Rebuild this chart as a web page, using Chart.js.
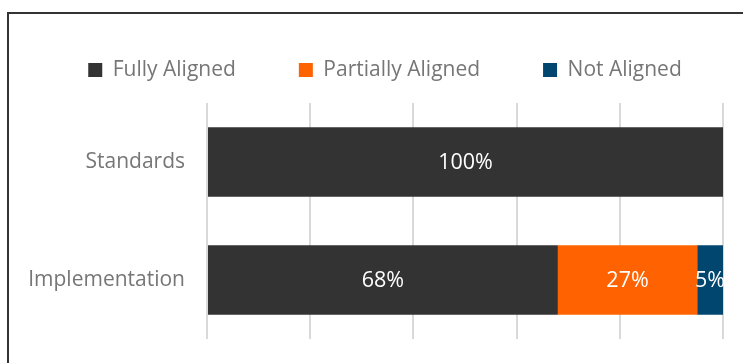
<!DOCTYPE html>
<html>
<head>
<meta charset="utf-8">
<script src="https://cdn.jsdelivr.net/npm/chart.js@4/dist/chart.umd.min.js"></script>
<style>
  html, body { margin: 0; padding: 0; background: #ffffff; overflow: hidden; }
  #frame { position: absolute; left: 7px; top: 12px; width: 800px; height: 400px;
           border-top: 2px solid #333333; border-left: 2px solid #333333; }
  #wrap { position: absolute; left: 0; top: 0; width: 743px; height: 363px; }
</style>
</head>
<body>
<div id="frame"></div>
<div id="wrap"><canvas id="c" width="743" height="363"></canvas></div>
<script>
const categories = ["Standards", "Implementation"];
const seriesNames = ["Fully Aligned", "Partially Aligned", "Not Aligned"];
const fullyAligned = [100, 68];
const partiallyAligned = [0, 27];
const notAligned = [0, 5];
const xTicks = [0, 20, 40, 60, 80, 100];
const colors = ["#333333", "#FF6200", "#00466F"];

const labelPlugin = {
  id: "segLabels",
  afterDatasetsDraw(chart) {
    const ctx = chart.ctx;
    ctx.save();
    ctx.font = "21.5px 'Open Sans'";
    ctx.fillStyle = "#ffffff";
    ctx.textAlign = "center";
    ctx.textBaseline = "middle";
    chart.data.datasets.forEach((ds, i) => {
      const meta = chart.getDatasetMeta(i);
      meta.data.forEach((el, j) => {
        const v = ds.data[j];
        if (!v) return;
        const p = el.getCenterPoint();
        ctx.fillText(v + "%", p.x, p.y + 1);
      });
    });
    ctx.restore();
  }
};

const legendShift = {
  id: "legendShift",
  afterLayout(chart) {
    const lg = chart.legend;
    if (!lg) return;
    lg.top -= 3.5;
    lg.bottom -= 3.5;
    lg.left = 10;
    lg.right = 760;
  }
};

const chart = new Chart(document.getElementById("c"), {
  type: "bar",
  data: {
    labels: categories,
    datasets: [
      { label: seriesNames[0], data: fullyAligned, backgroundColor: colors[0] },
      { label: seriesNames[1], data: partiallyAligned, backgroundColor: colors[1] },
      { label: seriesNames[2], data: notAligned, backgroundColor: colors[2] }
    ]
  },
  options: {
    indexAxis: "y",
    responsive: false,
    animation: false,
    layout: { padding: { left: 0, right: 20, top: 0, bottom: 24 } },
    datasets: { bar: { categoryPercentage: 1.0, barPercentage: 0.59 } },
    plugins: {
      tooltip: { enabled: false },
      legend: {
        position: "top",
        labels: {
          font: { family: "'Open Sans'", size: 21 },
          color: "#767676",
          boxWidth: 14,
          boxHeight: 14,
          padding: 63
        }
      }
    },
    scales: {
      x: {
        position: "top",
        stacked: true,
        min: xTicks[0],
        max: xTicks[xTicks.length - 1],
        afterBuildTicks(scale) { scale.ticks = xTicks.map(v => ({ value: v })); },
        ticks: { display: false },
        grid: { color: "#d9d9d9", lineWidth: 2, drawTicks: false },
        border: { display: false },
        afterFit(scale) { scale.height = 9; scale.paddingLeft = 0; scale.paddingRight = 0; }
      },
      y: {
        stacked: true,
        ticks: { font: { family: "'Open Sans'", size: 21 }, color: "#767676", padding: 22 },
        grid: { display: false, drawTicks: false },
        border: { display: false },
        afterFit(scale) { scale.width = 207; scale.paddingTop = 0; scale.paddingBottom = 0; }
      }
    }
  },
  plugins: [labelPlugin, legendShift]
});

// keep the legend on a single row
const lg = chart.legend;
const origFit = lg.fit.bind(lg);
lg.fit = function () {
  const mw = this.maxWidth;
  this.maxWidth = 3000;
  origFit();
  this.maxWidth = mw;
  this.width = mw;
};
chart.update();
</script>
</body>
</html>
